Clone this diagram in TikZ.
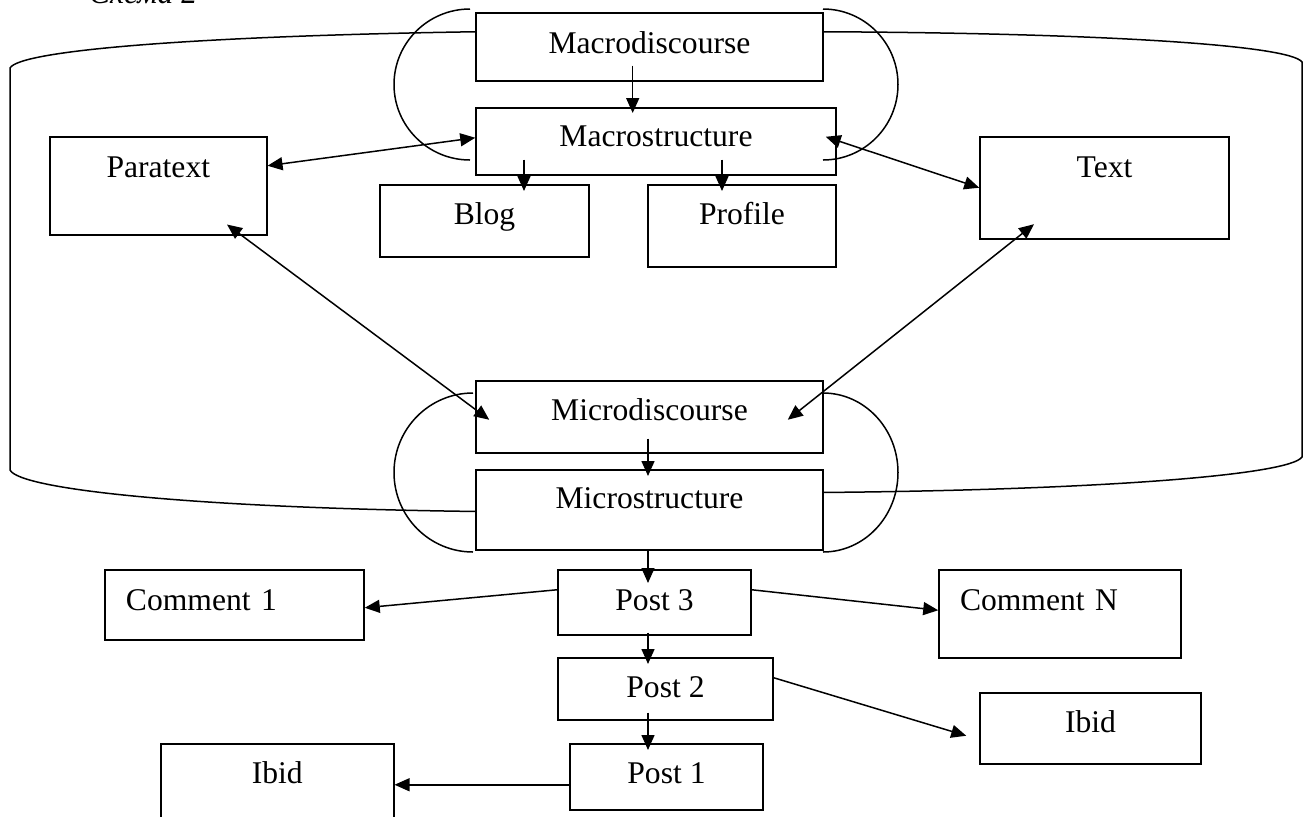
\documentclass[tikz,border=0pt]{standalone}
\usepackage{fontspec}
\setmainfont{Liberation Serif}
\usetikzlibrary{arrows.meta}

\begin{document}
\begin{tikzpicture}[x=0.5pt, y=-0.5pt, font=\fontsize{15.8}{19}\selectfont,
        box/.style={draw, line width=0.75pt, inner sep=0pt, anchor=north},
        arr/.style={-{Triangle[length=7.5pt,width=6.5pt]}, line width=0.75pt},
        darr/.style={{Triangle[length=7.5pt,width=6.5pt]}-{Triangle[length=7.5pt,width=6.5pt]}, line width=0.75pt},
        rim/.style={line width=0.75pt}]
        \useasboundingbox (0,0) rectangle (1303,816);
        \node[anchor=base west, font=\fontsize{15.8}{19}\selectfont\itshape] (caption) at (82,3) {Схема 2};
        % boxes: name/x/top/width/height/depth/text
        \foreach \n/\x/\y/\w/\h/\d/\t in {macrodisc/649.5/12/173.5/20.5/13.5/Macrodiscourse, macrostruct/656/107/180/19.5/14/Macrostructure, blog/484.5/184/104.5/20/16/Blog, profile/742/184/94/20/21/Profile, paratext/158.3/136/108.5/20.5/28.5/Paratext, textbox/1104.5/136/124.5/20.5/30.5/Text, microdisc/649.5/380/173.5/20/16/Microdiscourse, microstruct/649.5/469/173.5/19.5/20.5/Microstructure, post3/654.5/569/96.5/20.5/12/Post 3, post2/665.5/657/107.5/20/11/Post 2, post1/666.5/743/96.5/20/13/Post 1, ibidR/1090.5/692/110.5/20/15.5/Ibid, ibidL/277.3/743/116.5/20/25/Ibid}
          {\node[box, minimum width=\w pt, text height=\h pt, text depth=\d pt] (\n) at (\x,\y) {\t};}
        \node[box, text width=108.5pt, inner xsep=10.5pt, align=left, text height=20.5pt, text depth=14.5pt] (comment1) at (234.5,569) {Comment 1};
        \node[box, text width=100pt, inner xsep=10.5pt, align=left, text height=20.5pt, text depth=23.5pt] (commentN) at (1060,569) {Comment N};
        % cylinder
        \draw[rim] ([yshift=7.5pt]macrodisc.west) .. controls (200,36) and (20,50) .. (10,68) -- (10,470) .. controls (20,490) and (200,508) .. ([yshift=-0.85pt]microstruct.west);
        \draw[rim] ([yshift=7.5pt]macrodisc.east) .. controls (1100,33) and (1290,45) .. (1302,62) -- (1302,457) .. controls (1290,475) and (1100,490) .. ([yshift=8.65pt]microstruct.east);
        \draw[rim] (470,9) arc[start angle=270, end angle=90, x radius=76, y radius=75.5];
        \draw[rim] (823,9) arc[start angle=270, end angle=450, x radius=75, y radius=75.5];
        \draw[rim] (473,393) arc[start angle=270, end angle=90, x radius=79, y radius=79.5];
        \draw[rim] (823,393) arc[start angle=270, end angle=450, x radius=75, y radius=79.5];
        % arrows
        \draw[arr] ([xshift=-8.4pt,yshift=8pt]macrodisc.south) -- ([xshift=-11.65pt,yshift=-3pt]macrostruct.north);
        \draw[arr] ([xshift=-66pt,yshift=8pt]macrostruct.south) -- ([xshift=19.75pt,yshift=-3.5pt]blog.north);
        \draw[arr] ([xshift=33pt,yshift=8pt]macrostruct.south) -- ([xshift=-10pt,yshift=-3.5pt]profile.north);
        \draw[darr] ([yshift=10pt]paratext.east) -- ([yshift=1.75pt]macrostruct.west);
        \draw[darr] ([xshift=-5.5pt,yshift=2.25pt]macrostruct.east) -- (textbox.west);
        \draw[darr] ([xshift=34.35pt,yshift=5.5pt]paratext.south) -- ([xshift=7pt,yshift=-1.5pt]microdisc.west);
        \draw[darr] ([xshift=-35.25pt,yshift=7.65pt]textbox.south) -- ([xshift=-18pt,yshift=-1.5pt]microdisc.east);
        \draw[arr] ([xshift=-0.75pt,yshift=7.5pt]microdisc.south) -- ([xshift=-0.75pt,yshift=-3.5pt]microstruct.north);
        \draw[arr] ([xshift=-0.75pt]microstruct.south) -- ([xshift=-3.25pt,yshift=-7pt]post3.north);
        \draw[arr] ([xshift=-3.25pt,yshift=1.5pt]post3.south) -- ([xshift=-8.75pt,yshift=-3.5pt]post2.north);
        \draw[arr] ([xshift=-8.75pt,yshift=4pt]post2.south) -- ([xshift=-9.25pt,yshift=-3.5pt]post1.north);
        \draw[arr] ([yshift=6.25pt]post3.west) -- ([yshift=-1.5pt]comment1.east);
        \draw[arr] ([yshift=6.25pt]post3.east) -- ([yshift=1.75pt]commentN.west);
        \draw[arr] ([yshift=5.5pt]post2.east) -- ([xshift=-6.5pt,yshift=-3.75pt]ibidR.west);
        \draw[arr] ([yshift=-4pt]post1.west) -- ([yshift=2pt]ibidL.east);
\end{tikzpicture}
\end{document}
